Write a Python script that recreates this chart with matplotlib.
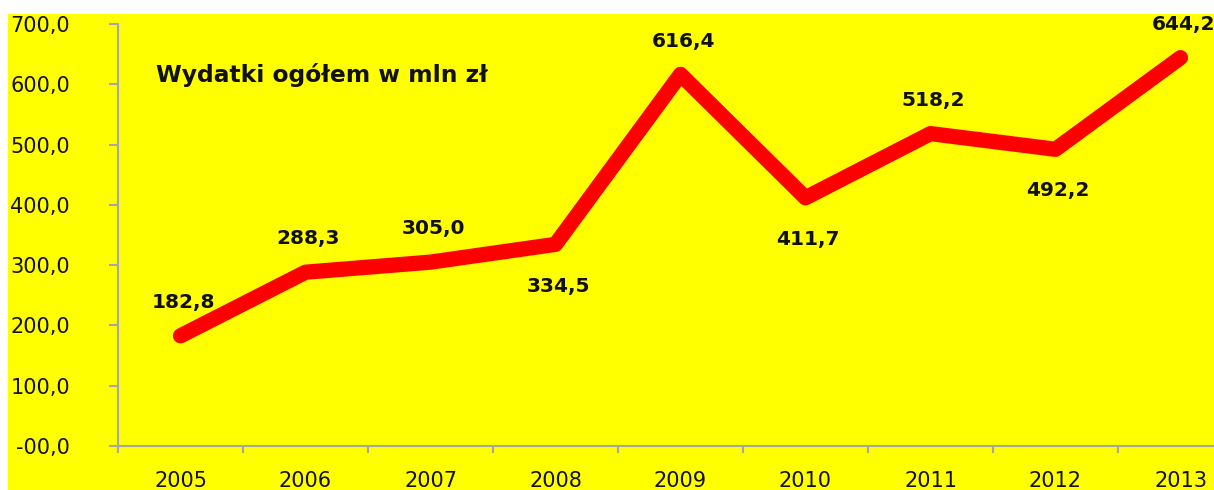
import matplotlib.pyplot as plt
from matplotlib.patches import Rectangle

years = ['2005', '2006', '2007', '2008', '2009', '2010', '2011', '2012', '2013']
values = [182.8, 288.3, 305.0, 334.5, 616.4, 411.7, 518.2, 492.2, 644.2]
value_labels = ['182,8', '288,3', '305,0', '334,5', '616,4', '411,7', '518,2', '492,2', '644,2']
label_above = [True, True, True, False, True, False, True, False, True]
y_ticks = [0, 100, 200, 300, 400, 500, 600, 700]
y_tick_labels = ['-00,0', '100,0', '200,0', '300,0', '400,0', '500,0', '600,0', '700,0']
title = 'Wydatki ogółem w mln zł'

W, H = 1214, 490
fig = plt.figure(figsize=(W / 100, H / 100), dpi=100, facecolor='white')
bg = Rectangle((8 / W, 0), 1, (H - 14) / H, transform=fig.transFigure,
               facecolor='#FFFF00', edgecolor='none', zorder=-10)
fig.add_artist(bg)

ax = fig.add_axes([118 / W, 44 / H, 1125 / W, 422 / H])
ax.set_facecolor('none')

x = list(range(len(years)))
ax.plot(x, values, color='#FF0000', lw=11, solid_capstyle='round',
        solid_joinstyle='round', zorder=3, clip_on=False)

for xi, v, lab, up in zip(x, values, value_labels, label_above):
    off = 24 if up else -30
    ax.annotate(lab, (xi, v), xytext=(2, off), textcoords='offset points',
                ha='center', va='center', fontsize=14.5, fontweight='bold',
                color='#111111', annotation_clip=False)

ax.text(156 / W, (H - 75) / H, title, transform=fig.transFigure, fontsize=16.8,
        fontweight='bold', ha='left', va='center', color='#111111')

ax.set_xlim(-0.5, len(years) - 0.5)
ax.set_ylim(0, 700)

# ticks between categories, labels in the middle
ax.set_xticks([i - 0.5 for i in range(len(years) + 1)])
ax.set_xticklabels([])
ax.set_xticks(x, minor=True)
ax.set_xticklabels(years, minor=True)
ax.tick_params(axis='x', which='major', length=5, width=1.5, color='#A6A6A6')
ax.tick_params(axis='x', which='minor', length=0, pad=18, labelsize=15, labelcolor='#111111')

ax.set_yticks(y_ticks)
ax.set_yticklabels(y_tick_labels)
ax.tick_params(axis='y', length=6.5, width=1.5, color='#A6A6A6', pad=28,
               labelsize=15, labelcolor='#111111')

for s in ['top', 'right']:
    ax.spines[s].set_visible(False)
for s in ['left', 'bottom']:
    ax.spines[s].set_color('#A6A6A6')
    ax.spines[s].set_linewidth(1.5)

fig.savefig('out.png', dpi=100, facecolor='white')
